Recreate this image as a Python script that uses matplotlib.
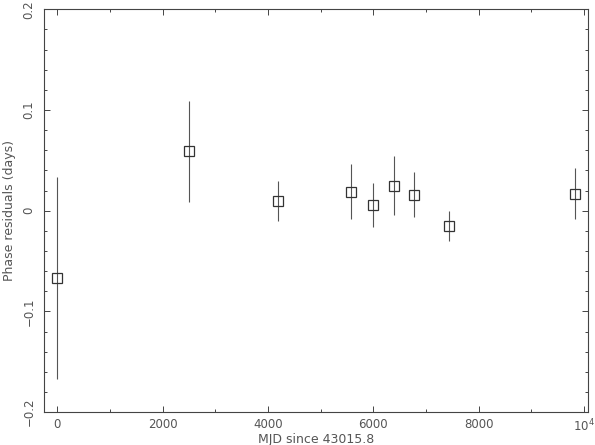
import numpy as np
import matplotlib
matplotlib.use("Agg")
import matplotlib.pyplot as plt
from matplotlib.ticker import MultipleLocator, FixedLocator

# MJD offsets and timing residuals
mjd = np.array([0, 2500, 4200, 5585, 5990, 6385, 6780, 7430, 9835])
resid = np.array([-0.067, 0.059, 0.010, 0.019, 0.006, 0.025, 0.016, -0.015, 0.017])
err = np.array([0.100, 0.050, 0.020, 0.027, 0.022, 0.029, 0.022, 0.015, 0.025])

xticks = [0, 2000, 4000, 6000, 8000, 10000]
xlabels = ["0", "2000", "4000", "6000", "8000", "10$^4$"]
yticks = [-0.2, -0.1, 0, 0.1, 0.2]
ylabels = ["\u22120.2", "\u22120.1", "0", "0.1", "0.2"]

ink = "#444444"
plt.rcParams['font.family'] = ['DejaVu Sans']

fig = plt.figure(figsize=(5.95, 4.45), dpi=100)
ax = fig.add_axes([0.074, 0.074, 0.915, 0.905])

ax.errorbar(mjd, resid, yerr=err, fmt="none", ecolor="#555555", elinewidth=0.8, capsize=0)
ax.plot(mjd, resid, "s", ms=7, mfc="none", mec="#333333", mew=0.9)

ax.set_xlim(-253, 10088)
ax.set_ylim(-0.2, 0.2)

ax.xaxis.set_major_locator(FixedLocator(xticks))
ax.set_xticklabels(xlabels)
ax.xaxis.set_minor_locator(MultipleLocator(1000))
ax.yaxis.set_major_locator(FixedLocator(yticks))
ax.set_yticklabels(ylabels, rotation=90, va="center")
ax.yaxis.set_minor_locator(MultipleLocator(0.02))

ax.tick_params(which="both", direction="in", top=True, right=True, colors=ink, width=0.7, labelsize=8.5, labelcolor="#555555")
ax.tick_params(which="major", length=4.5)
ax.tick_params(which="minor", length=2.2)
ax.tick_params(axis="x", pad=4)
ax.tick_params(axis="y", pad=6)
for s in ax.spines.values():
    s.set_color(ink)
    s.set_linewidth(0.8)

ax.set_xlabel("MJD since 43015.8", fontsize=9, color="#555555", labelpad=-1)
ax.set_ylabel("Phase residuals (days)", fontsize=9, color="#555555", labelpad=5)

fig.savefig("out.png", dpi=100)
